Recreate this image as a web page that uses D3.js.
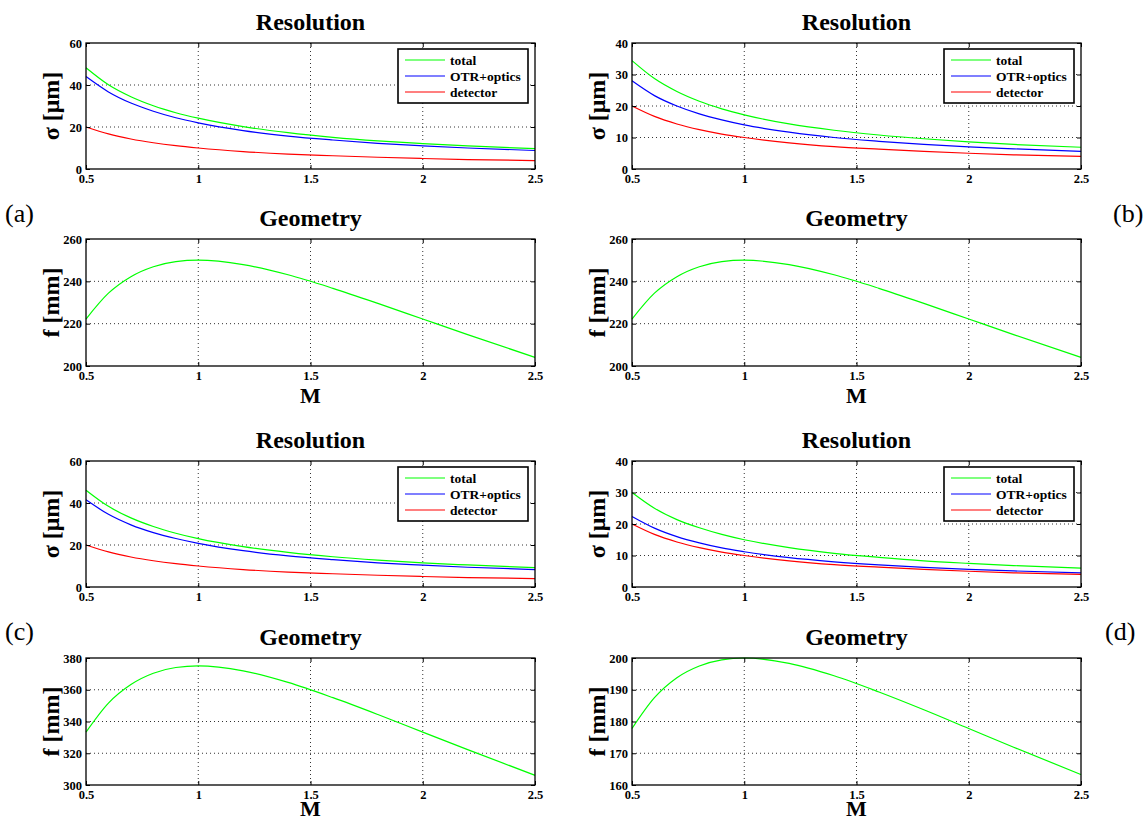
<!DOCTYPE html>
<html>
<head>
<meta charset="utf-8">
<script src="https://cdn.jsdelivr.net/npm/d3@7"></script>
<style>
  body { margin: 0; background: #fff; }
  text { font-family: "Liberation Serif", "Times New Roman", serif; }
</style>
</head>
<body>
<script>
// magnification values sampled along each curve
const mValues = [0.5, 0.6, 0.7, 0.8, 0.9, 1.0, 1.2, 1.4, 1.6, 1.8, 2.0, 2.2, 2.5];
const xTicks = [0.5, 1, 1.5, 2, 2.5];
const seriesNames = ["total", "OTR+optics", "detector"];
const seriesColors = ["#00ff00", "#0000ff", "#ff0000"];

// resolution [um]
const detector = [20, 16.7, 14.3, 12.5, 11.1, 10, 8.3, 7.1, 6.3, 5.6, 5.0, 4.5, 4.0];
const totalA = [48.2, 40.1, 34.4, 30.1, 26.8, 24.2, 20.2, 17.3, 15.1, 13.4, 12.1, 11.0, 9.7];
const otrA   = [44.0, 36.7, 31.4, 27.5, 24.4, 22.0, 18.3, 15.7, 13.8, 12.2, 11.0, 10.0, 8.8];
const totalB = [34.4, 28.7, 24.6, 21.5, 19.1, 17.2, 14.3, 12.3, 10.8, 9.6, 8.6, 7.8, 6.9];
const otrB   = [28.0, 23.3, 20.0, 17.5, 15.6, 14.0, 11.7, 10.0, 8.8, 7.8, 7.0, 6.4, 5.6];
const totalC = [46.1, 38.4, 32.9, 28.8, 25.6, 23.0, 19.2, 16.5, 14.4, 12.8, 11.5, 10.5, 9.2];
const otrC   = [41.5, 34.6, 29.6, 25.9, 23.1, 20.8, 17.3, 14.8, 13.0, 11.5, 10.4, 9.4, 8.3];
const totalD = [30.0, 25.0, 21.4, 18.8, 16.7, 15.0, 12.5, 10.7, 9.4, 8.3, 7.5, 6.8, 6.0];
const otrD   = [22.4, 18.7, 16.0, 14.0, 12.4, 11.2, 9.3, 8.0, 7.0, 6.2, 5.6, 5.1, 4.5];

// geometry: focal length [mm]
const geoA = [222.2, 234.4, 242.2, 246.9, 249.3, 250, 247.9, 243.1, 236.7, 229.6, 222.2, 214.8, 204.1];
const geoB = [222.2, 234.4, 242.2, 246.9, 249.3, 250, 247.9, 243.1, 236.7, 229.6, 222.2, 214.8, 204.1];
const geoC = [333.3, 351.6, 363.3, 370.4, 374.0, 375, 371.9, 364.6, 355.0, 344.4, 333.3, 322.3, 306.1];
const geoD = [177.8, 187.5, 193.8, 197.5, 199.4, 200, 198.3, 194.4, 189.3, 183.7, 177.8, 171.9, 163.3];

const ticksRes60 = [0, 20, 40, 60];
const ticksRes40 = [0, 10, 20, 30, 40];
const ticksGeoAB = [200, 220, 240, 260];
const ticksGeoC = [300, 320, 340, 360, 380];
const ticksGeoD = [160, 170, 180, 190, 200];

const width = 1146, height = 821;
const cols = [{ left: 86, right: 535 }, { left: 632, right: 1081 }];

const svg = d3.select("body").append("svg")
    .attr("width", width)
    .attr("height", height);

const panels = [
  { col: 0, top: 43, bottom: 169, title: "Resolution", ylabel: "σ [μm]", yTicks: ticksRes60, series: [totalA, otrA, detector], legend: true },
  { col: 1, top: 43, bottom: 169, title: "Resolution", ylabel: "σ [μm]", yTicks: ticksRes40, series: [totalB, otrB, detector], legend: true },
  { col: 0, top: 239, bottom: 366, title: "Geometry", ylabel: "f [mm]", yTicks: ticksGeoAB, series: [geoA], xlabel: 37 },
  { col: 1, top: 239, bottom: 366, title: "Geometry", ylabel: "f [mm]", yTicks: ticksGeoAB, series: [geoB], xlabel: 37 },
  { col: 0, top: 461, bottom: 587, title: "Resolution", ylabel: "σ [μm]", yTicks: ticksRes60, series: [totalC, otrC, detector], legend: true },
  { col: 1, top: 461, bottom: 587, title: "Resolution", ylabel: "σ [μm]", yTicks: ticksRes40, series: [totalD, otrD, detector], legend: true },
  { col: 0, top: 658, bottom: 785, title: "Geometry", ylabel: "f [mm]", yTicks: ticksGeoC, series: [geoC], xlabel: 31 },
  { col: 1, top: 658, bottom: 785, title: "Geometry", ylabel: "f [mm]", yTicks: ticksGeoD, series: [geoD], xlabel: 31 }
];

function styleAxis(sel) {
  sel.select(".domain").remove();
  sel.selectAll(".tick line").attr("stroke", "#000").attr("stroke-width", 1);
  sel.selectAll(".tick text")
    .attr("fill", "#000")
    .style("font-family", '"Liberation Serif", "Times New Roman", serif')
    .style("font-weight", "bold")
    .style("font-size", "12.5px");
}

panels.forEach(p => {
  const left = cols[p.col].left, right = cols[p.col].right;
  const yExt = d3.extent(p.yTicks);
  const x = d3.scaleLinear().domain([0.5, 2.5]).range([left, right]);
  const y = d3.scaleLinear().domain(yExt).range([p.bottom, p.top]);
  const g = svg.append("g");

  // dotted grid
  g.selectAll(".gx").data(xTicks.slice(1, -1)).join("line")
    .attr("x1", d => x(d)).attr("x2", d => x(d))
    .attr("y1", p.top).attr("y2", p.bottom)
    .attr("stroke", "#333").attr("stroke-dasharray", "1,3");
  g.selectAll(".gy").data(p.yTicks.slice(1, -1)).join("line")
    .attr("x1", left).attr("x2", right)
    .attr("y1", d => y(d)).attr("y2", d => y(d))
    .attr("stroke", "#333").attr("stroke-dasharray", "1,3");

  // curves
  const line = d3.line()
    .x((d, i) => x(mValues[i]))
    .y(d => y(d))
    .curve(d3.curveMonotoneX);
  p.series.forEach((s, i) => {
    g.append("path")
      .attr("d", line(s))
      .attr("fill", "none")
      .attr("stroke", seriesColors[i])
      .attr("stroke-width", 1.2);
  });

  // axes with inward ticks
  g.append("g").attr("transform", `translate(0,${p.bottom})`)
    .call(d3.axisBottom(x).tickValues(xTicks).tickSize(-4).tickPadding(5).tickFormat(d3.format("")))
    .call(styleAxis);
  g.append("g").attr("transform", `translate(0,${p.top})`)
    .call(d3.axisTop(x).tickValues(xTicks).tickSize(-4).tickFormat(""))
    .call(styleAxis);
  g.append("g").attr("transform", `translate(${left},0)`)
    .call(d3.axisLeft(y).tickValues(p.yTicks).tickSize(-4).tickPadding(4))
    .call(styleAxis);
  g.append("g").attr("transform", `translate(${right},0)`)
    .call(d3.axisRight(y).tickValues(p.yTicks).tickSize(-4).tickFormat(""))
    .call(styleAxis);

  g.append("rect")
    .attr("x", left).attr("y", p.top)
    .attr("width", right - left).attr("height", p.bottom - p.top)
    .attr("fill", "none").attr("stroke", "#000").attr("stroke-width", 1.3);

  // title
  g.append("text")
    .attr("x", (left + right) / 2).attr("y", p.top - 13)
    .attr("text-anchor", "middle")
    .style("font-weight", "bold").style("font-size", "24px")
    .text(p.title);

  // y label
  g.append("text")
    .attr("transform", `translate(${left - 35},${(p.top + p.bottom) / 2}) rotate(-90)`)
    .attr("text-anchor", "middle")
    .attr("dy", "0.35em")
    .style("font-weight", "bold").style("font-size", "24px")
    .text(p.ylabel);

  if (p.xlabel) {
    g.append("text")
      .attr("x", (left + right) / 2).attr("y", p.bottom + p.xlabel)
      .attr("text-anchor", "middle")
      .style("font-weight", "bold").style("font-size", "22px")
      .text("M");
  }

  if (p.legend) {
    const lw = 130, lh = 54;
    const lx = right - 7 - lw, ly = p.top + 6;
    const lg = g.append("g").attr("transform", `translate(${lx},${ly})`);
    lg.append("rect")
      .attr("width", lw).attr("height", lh)
      .attr("fill", "#fff").attr("stroke", "#000").attr("stroke-width", 1.6);
    seriesNames.forEach((name, i) => {
      const yy = 11 + i * 16;
      lg.append("line")
        .attr("x1", 7).attr("x2", 47).attr("y1", yy).attr("y2", yy)
        .attr("stroke", seriesColors[i]).attr("stroke-width", 1.2);
      lg.append("text")
        .attr("x", 52).attr("y", yy).attr("dy", "0.35em")
        .style("font-weight", "bold").style("font-size", "13.5px")
        .text(name);
    });
  }
});

// panel letters
const panelLetters = ["(a)", "(b)", "(c)", "(d)"];
const letterPos = [[5, 222], [1113, 222], [5, 640], [1105, 640]];
svg.selectAll(".letter").data(panelLetters).join("text")
  .attr("x", (d, i) => letterPos[i][0])
  .attr("y", (d, i) => letterPos[i][1])
  .style("font-size", "26px")
  .text(d => d);
</script>
</body>
</html>
